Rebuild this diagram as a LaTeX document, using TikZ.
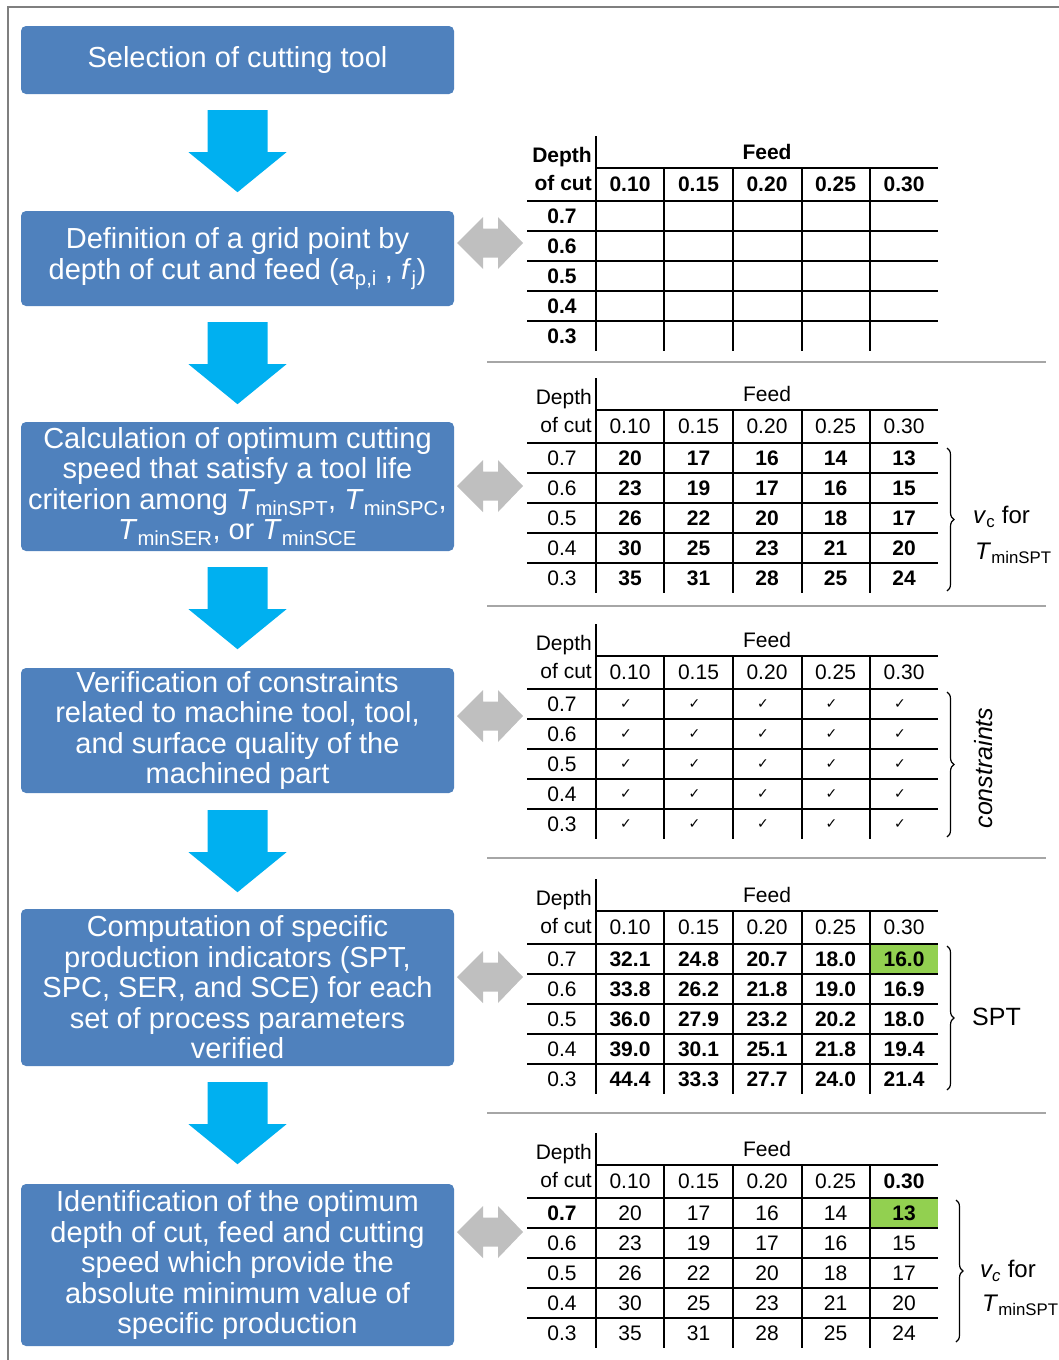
\documentclass[tikz,border=0pt]{standalone}
\usepackage{fontspec}
\setmainfont{Liberation Sans}
\newfontfamily\dejavu{DejaVu Sans}
\usetikzlibrary{calc,decorations.pathreplacing}
\definecolor{boxblue}{HTML}{4F81BD}
\definecolor{arrblue}{HTML}{00B0F0}
\definecolor{arrgray}{HTML}{BFBFBF}
\definecolor{framegray}{HTML}{7F7F7F}
\definecolor{sepgray}{HTML}{A6A6A6}
\definecolor{cellgreen}{HTML}{92D050}
\newcommand\tgrid[4]{%
 \draw[tline] (596,-80) -- (596,135);
 \draw[tline] (596,-48) -- (938,-48);
 \foreach \x in {664,733,802,870} {\draw[tline] (\x,-48) -- (\x,135);}
 \foreach \y in {-15,15,45,75,105} {\draw[tline] (527,\y) -- (938,\y);}
 \node[tval,anchor=east] (#1-depth) at (592,-59) {#2Depth};
 \node[tval,anchor=east] (#1-ofcut) at (592,-33) {#2of cut};
 \node[tval] (#1-feed) at (767,-64) {#2Feed};
 \foreach \h/\f [count=\j from 0] in {#3} {\node[tval] (#1-h\j) at ({630+68.5*\j},-32) {\f\h};}
 \foreach \h/\f [count=\i from 0] in {#4} {\node[tval] (#1-r\i) at (562,{30*\i}) {\f\h};}
}
\begin{document}
\begin{tikzpicture}[x=1pt,y=-1pt,
  stepbox/.style={fill=boxblue, rounded corners=5pt, text=white, align=center,
    font=\fontsize{29}{30.5}\selectfont, inner sep=0pt, minimum width=433},
  tline/.style={line width=2.2, black},
  tval/.style={inner sep=0pt, font=\fontsize{21}{24}\selectfont},
  sidelab/.style={inner sep=0pt, anchor=west, font=\fontsize{24}{28}\selectfont},
  sepline/.style={draw=sepgray, line width=2},
  brc/.style={decorate, decoration={brace, amplitude=7}, line width=1.2},
  blockdown/.pic={\fill[arrblue] (-30,0) -- (30,0) -- (30,42) -- (49,42) -- (0,82) -- (-49,42) -- (-30,42) -- cycle;},
  dblarrow/.pic={\fill[arrgray] (0,0) -- (26,-26) -- (26,-14.5) -- (41,-14.5) -- (41,-26) -- (66,0) -- (41,26) -- (41,14.5) -- (26,14.5) -- (26,26) -- cycle;}
]
\useasboundingbox (0,0) rectangle (1059,1360);
% frame
\draw[framegray, line width=2.5] (8,1362) -- (8,7) -- (1061,7);

% process boxes
\node[stepbox, minimum height=68] (b1) at (237.5,60) {Selection of cutting tool};
\node[stepbox, minimum height=95] (b2) at (237.5,258.5) {Definition of a grid point by\\depth of cut and feed (\textit{a}\textsubscript{p,i} , \textit{f}\textsubscript{j})};
\node[stepbox, minimum height=129] (b3) at (237.5,486.5) {Calculation of optimum cutting\\speed that satisfy a tool life\\criterion among \textit{T}\textsubscript{minSPT}, \textit{T}\textsubscript{minSPC},\\\textit{T}\textsubscript{minSER}, or \textit{T}\textsubscript{minSCE}};
\node[stepbox, minimum height=125] (b4) at (237.5,730.5) {Verification of constraints\\related to machine tool, tool,\\and surface quality of the\\machined part};
\node[stepbox, minimum height=157] (b5) at (237.5,987.5) {Computation of specific\\production indicators (SPT,\\SPC, SER, and SCE) for each\\set of process parameters\\verified};
\node[stepbox, minimum height=162] (b6) at (237.5,1265) {Identification of the optimum\\depth of cut, feed and cutting\\speed which provide the\\absolute minimum value of\\specific production};

% blue arrows
\path ($(b1.south)+(0,16)$) pic {blockdown};
\path ($(b2.south)+(0,16)$) pic {blockdown};
\path ($(b3.south)+(0,16)$) pic {blockdown};
\path ($(b4.south)+(0,17)$) pic {blockdown};
\path ($(b5.south)+(0,16)$) pic {blockdown};

% gray double arrows
\coordinate (g2) at (457,243);
\coordinate (g3) at (457,486);
\coordinate (g4) at (457,716);
\coordinate (g5) at (457,977);
\coordinate (g6) at (457,1232);
\foreach \g in {g2,g3,g4,g5,g6} {\path (\g) pic {dblarrow};}

% separators
\foreach \y in {362,606,858,1113} {\draw[sepline] (487,\y) -- (1046,\y);}

% Table 1
\begin{scope}[shift={(0,216)}]
\tgrid{T1}{\bfseries}{0.10/\bfseries,0.15/\bfseries,0.20/\bfseries,0.25/\bfseries,0.30/\bfseries}{0.7/\bfseries,0.6/\bfseries,0.5/\bfseries,0.4/\bfseries,0.3/\bfseries}
\end{scope}

% Table 2
\begin{scope}[shift={(0,458)}]
\tgrid{T2}{}{0.10/\relax,0.15/\relax,0.20/\relax,0.25/\relax,0.30/\relax}{0.7/\relax,0.6/\relax,0.5/\relax,0.4/\relax,0.3/\relax}
\foreach \row [count=\i from 0] in {{20,17,16,14,13},{23,19,17,16,15},{26,22,20,18,17},{30,25,23,21,20},{35,31,28,25,24}}
  {\foreach \v [count=\j from 0] in \row {\node[tval] (T2-\i-\j) at ({630+68.5*\j},{30*\i}) {\bfseries\v};}}
\draw[brc] (947,-10) coordinate (T2-bt) -- (947,133) coordinate (T2-bb);
\node[sidelab] (T2-l1) at (973,59) {\textit{v}\textsubscript{c} for};
\node[sidelab] (T2-l2) at (975,95) {\textit{T}\textsubscript{minSPT}};
\end{scope}

% Table 3
\begin{scope}[shift={(0,704)}]
\tgrid{T3}{}{0.10/\relax,0.15/\relax,0.20/\relax,0.25/\relax,0.30/\relax}{0.7/\relax,0.6/\relax,0.5/\relax,0.4/\relax,0.3/\relax}
\foreach \i in {0,...,4}
  {\foreach \j in {0,...,4} {\node[tval] (T3-\i-\j) at ({626+68.5*\j},{30*\i}) {\dejavu\bfseries\fontsize{14}{14}\selectfont ✓};}}
\draw[brc] (947,-12) coordinate (T3-bt) -- (947,133) coordinate (T3-bb);
\node[inner sep=0pt, rotate=90, font=\fontsize{25}{28}\selectfont\itshape] (T3-l) at (984,64) {constraints};
\end{scope}

% Table 4
\begin{scope}[shift={(0,959)}]
\fill[cellgreen] (870,-15) rectangle (938,15);
\tgrid{T4}{}{0.10/\relax,0.15/\relax,0.20/\relax,0.25/\relax,0.30/\relax}{0.7/\relax,0.6/\relax,0.5/\relax,0.4/\relax,0.3/\relax}
\foreach \row [count=\i from 0] in {{32.1,24.8,20.7,18.0,16.0},{33.8,26.2,21.8,19.0,16.9},{36.0,27.9,23.2,20.2,18.0},{39.0,30.1,25.1,21.8,19.4},{44.4,33.3,27.7,24.0,21.4}}
  {\foreach \v [count=\j from 0] in \row {\node[tval] (T4-\i-\j) at ({630+68.5*\j},{30*\i}) {\bfseries\v};}}
\draw[brc] (947,-13) coordinate (T4-bt) -- (947,131) coordinate (T4-bb);
\node[sidelab, font=\fontsize{25}{28}\selectfont] (T4-l) at (972,58) {SPT};
\end{scope}

% Table 5
\begin{scope}[shift={(0,1213)}]
\fill[cellgreen] (870,-15) rectangle (938,15);
\tgrid{T5}{}{0.10/\relax,0.15/\relax,0.20/\relax,0.25/\relax,0.30/\bfseries}{0.7/\bfseries,0.6/\relax,0.5/\relax,0.4/\relax,0.3/\relax}
\foreach \row [count=\i from 0] in {{20,17,16,14,\bfseries 13},{23,19,17,16,15},{26,22,20,18,17},{30,25,23,21,20},{35,31,28,25,24}}
  {\foreach \v [count=\j from 0] in \row {\node[tval] (T5-\i-\j) at ({630+68.5*\j},{30*\i}) {\v};}}
\draw[brc] (956,-13) coordinate (T5-bt) -- (956,129) coordinate (T5-bb);
\node[sidelab] (T5-l1) at (980,58) {\textit{v\textsubscript{c}} for};
\node[sidelab] (T5-l2) at (982,92) {\textit{T}\textsubscript{minSPT}};
\end{scope}
\end{tikzpicture}
\end{document}
